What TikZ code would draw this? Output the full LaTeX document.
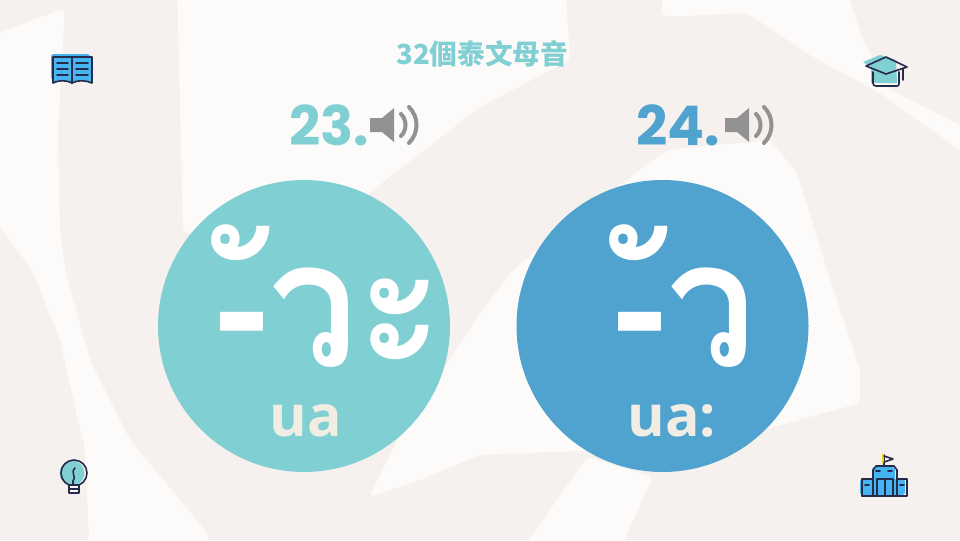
\documentclass[tikz,border=0pt]{standalone}
\usepackage{fontspec}
\setmainfont{Open Sans}
\newfontfamily\thaifont[Script=Thai]{Loma}
\newfontfamily\cjkfont{Noto Sans CJK TC}
\newfontfamily\numfont{Poppins}
\usepackage{xcolor}
\definecolor{bgpink}{HTML}{F6F1EF}
\definecolor{bgwhite}{HTML}{FCFBFA}
\definecolor{tealc}{HTML}{80CFD3}
\definecolor{bluec}{HTML}{4FA3CE}
\definecolor{creamc}{HTML}{F2EDE3}
\definecolor{inkc}{HTML}{272B4A}
\definecolor{iconblue}{HTML}{45B4F0}
\definecolor{greyc}{HTML}{929292}
\tikzset{
  vowelcircle/.style={circle, minimum size=292*0.75pt, inner sep=0pt},
  glyphtext/.style={text=white, inner sep=0pt, anchor=base west, text height=60pt, text depth=0pt, xscale=0.93, yscale=1.03, font=\thaifont\bfseries\fontsize{128}{128}\selectfont},
  romantext/.style={text=creamc, inner sep=0pt, anchor=base, font=\bfseries\fontsize{43}{43}\selectfont},
  numtext/.style={inner sep=0pt, anchor=east, font=\numfont\bfseries\fontsize{41}{41}\selectfont},
  iconline/.style={draw=inkc, line width=1.2pt, line join=round, line cap=round},
  bgstroke/.style={fill=bgwhite, rounded corners=4pt},
}
\newcommand{\speaker}[1]{%
  \fill[greyc, shift={(#1,0)}] (0,118) -- (12,118) -- (24,108) -- (24,142) -- (12,132) -- (0,132) -- cycle;
  \draw[greyc, line width=3pt, line cap=round, shift={(#1,0)}] (31,114) .. controls (37,120) and (37,130) .. (31,136);
  \draw[greyc, line width=3pt, line cap=round, shift={(#1,0)}] (39,107) .. controls (49,117) and (49,133) .. (39,143);
}
\begin{document}
\begin{tikzpicture}[x=0.75pt, y=-0.75pt]
  \useasboundingbox (0,0) rectangle (960,540);
  \fill[bgpink] (0,0) rectangle (960,540);
  % background strokes
  \fill[bgstroke] (-20,40) -- (65,8) -- (58,130) -- (60,230) -- (65,270) -- (90,360) -- (130,440) -- (205,530) -- (215,560) -- (90,560) -- (85,450) -- (60,340) -- (32,270) -- (-20,200) -- cycle;
  \fill[bgstroke] (177,-20) -- (565,-20) -- (570,60) -- (480,107) -- (373,190) -- (330,230) -- (183,233) -- cycle;
  \fill[bgstroke] (369,497) -- (395,445) -- (480,313) -- (513,270) -- (600,200) -- (667,150) -- (770,140) -- (797,173) -- (827,270) -- (860,370) -- (860,403) -- (763,430) -- (600,450) -- (480,455) -- (420,480) -- cycle;
  \fill[bgstroke] (515,560) -- (587,457) -- (653,477) -- (615,560) -- cycle;
  \fill[bgstroke] (662,-20) -- (843,-20) -- (863,40) -- (890,90) -- (980,135) -- (980,165) -- (880,93) -- (813,57) -- (747,13) -- (662,17) -- cycle;

  \node[font=\cjkfont\bfseries\fontsize{20.7}{20.7}\selectfont, text=tealc] (title) at (482,54) {32個泰文母音};

  \node[numtext, text=tealc] (num23) at (369,125) {23.};
  \node[numtext, text=bluec] (num24) at (720,125) {24.};
  \speaker{370}
  \speaker{725}

  \node[vowelcircle, fill=tealc] (left) at (304,326) {};
  \node[vowelcircle, fill=bluec] (right) at (662.5,326) {};

  \node[glyphtext] (glyph23) at (215,366) {-ัวะ};
  \node[glyphtext] (glyph24) at (613,366) {-ัว};
  \node[romantext] (roman23) at (306,436) {ua};
  \node[romantext] (roman24) at (672,436) {ua:};

  % book
  \fill[iconblue, rounded corners=2pt] (51,54) rectangle (90,80);
  \draw[iconline, fill=iconblue] (53,57) -- (72,57) -- (72,83) .. controls (66,80) and (59,80) .. (53,83) -- cycle;
  \draw[iconline, fill=iconblue] (72,57) -- (92,57) -- (92,83) .. controls (85,80) and (78,80) .. (72,83) -- cycle;
  \foreach \y in {63,69,75} {
    \draw[iconline] (57,\y) -- (68,\y);
    \draw[iconline] (76,\y) -- (88,\y);
  }
  % cap
  \fill[tealc] (863,62) -- (880,55) -- (896,60) -- (897,83) -- (871,83) -- (871,67) -- cycle;
  \draw[iconline] (873,72) -- (873,83) .. controls (873,85) and (874,86) .. (876,86) -- (897,86) .. controls (899,86) and (899,85) .. (899,83) -- (899,72);
  \draw[iconline] (866,66) -- (886,57) -- (907,67) -- (886,74) -- cycle;
  \draw[iconline] (903,69) -- (903,80);
  % bulb
  \fill[tealc] (72,473) circle (12.5);
  \draw[iconline] (74,473) circle (13);
  \draw[iconline] (73,486) -- (73,481) .. controls (77,477) and (70,473) .. (75,468);
  \draw[iconline, fill=bgwhite] (69,485) rectangle (79,493);
  \draw[iconline] (69,489) -- (79,489);
  % school
  \fill[iconblue, rounded corners=2pt] (860,479) rectangle (905,495);
  \fill[iconblue, rounded corners=2pt] (872,467) rectangle (895,495);
  \draw[iconline] (862,496) -- (862,479) -- (873,479);
  \draw[iconline] (897,479) -- (907,479) -- (907,496) -- (862,496);
  \draw[iconline] (873,496) -- (873,470) -- (876,466) -- (894,466) -- (897,470) -- (897,496);
  \draw[iconline] (877,496) -- (877,479) -- (893,479) -- (893,496);
  \draw[iconline] (885,479) -- (885,496);
  \foreach \x in {878,890} \draw[iconline] (\x-2,471) -- (\x+2,471);
  \foreach \x in {867,902} \draw[iconline] (\x-2,485) -- (\x+2,485);
  \draw[iconline] (884,466) -- (884,455);
  \fill[yellow!70!orange] (882,454) rectangle (884,463);
  \draw[iconline] (884,456) -- (893,459) -- (884,462);
\end{tikzpicture}
\end{document}
